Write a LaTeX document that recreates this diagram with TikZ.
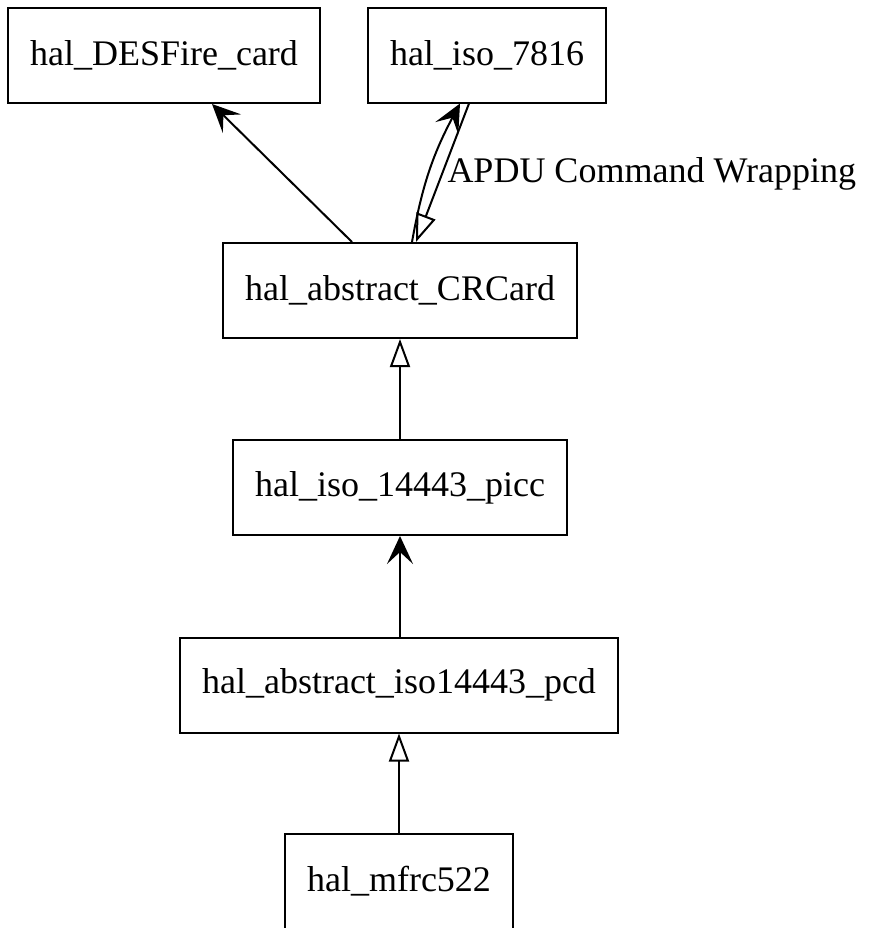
\documentclass[tikz,border=0pt]{standalone}
\usepackage{fontspec}
\setmainfont{Liberation Serif}
\usetikzlibrary{arrows.meta}
\tikzset{
  cls/.style={draw, line width=1pt, minimum height=47.5pt, inner xsep=11pt,
              font=\fontsize{18}{20}\selectfont},
  inherit/.style={line width=1pt, -{Triangle[open, length=14pt, width=10pt]}},
  dep/.style={line width=1pt, -{Stealth[length=14pt, width=13pt, inset=6pt]}}
}
\begin{document}
\begin{tikzpicture}[x=0.5pt, y=-0.5pt]
  \useasboundingbox (0, 0) rectangle (869, 928);
  \node[cls] (desfire) at (164, 55.5)  {hal\_DESFire\_card};
  \node[cls] (iso7816) at (487, 55)    {hal\_iso\_7816};
  \node[cls] (crcard)  at (400, 290.5) {hal\_abstract\_CRCard};
  \node[cls] (picc)    at (400, 487.5) {hal\_iso\_14443\_picc};
  \node[cls] (pcd)     at (399, 685)   {hal\_abstract\_iso14443\_pcd};
  \node[cls] (mfrc)    at (399, 881.5) {hal\_mfrc522};
  \draw[dep] ([xshift=-24pt]crcard.north) -- ([xshift=24pt]desfire.south);
  \draw[dep] ([xshift=6pt]crcard.north) to[bend left=9] ([xshift=-13.5pt]iso7816.south);
  \draw[inherit] ([xshift=-9pt]iso7816.south) --
      node[pos=0.5, inner sep=0pt, anchor=base west, xshift=2pt, yshift=-5pt,
           font=\fontsize{18}{20}\selectfont] (apdu) {APDU Command Wrapping}
      ([xshift=8pt]crcard.north);
  \draw[inherit] (picc.north -| crcard) -- (crcard);
  \draw[dep] (pcd.north -| picc) -- (picc);
  \draw[inherit] (mfrc) -- (pcd);
\end{tikzpicture}
\end{document}
